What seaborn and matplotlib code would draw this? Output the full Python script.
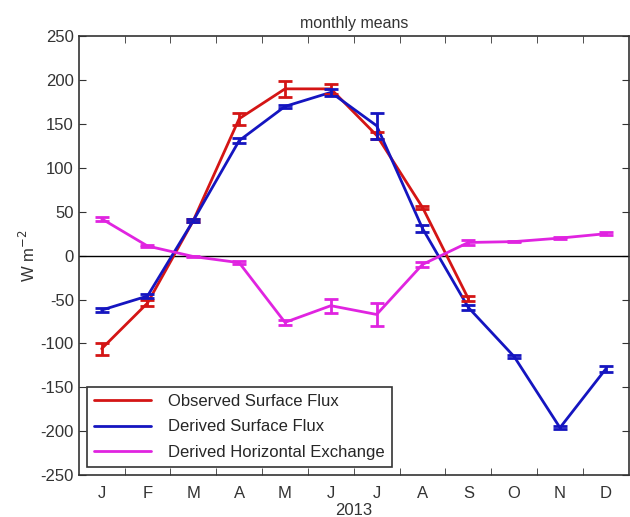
import numpy as np
import pandas as pd
import matplotlib
matplotlib.use("Agg")
import matplotlib.pyplot as plt
import seaborn as sns

months = ["J", "F", "M", "A", "M", "J", "J", "A", "S", "O", "N", "D"]
month_idx = list(range(1, 13))

obs_vals = [-106, -54, 40, 156, 190, 190, 137, 55, -49]
obs_err = [7, 3, 2, 7, 9, 6, 4, 2, 3]

der_vals = [-62, -46, 40, 131, 170, 186, 148, 31, -59, -115, -196, -129]
der_err = [2, 2, 2, 3, 2, 4, 15, 4, 3, 2, 2, 3]

hor_vals = [42, 11, -1, -8, -76, -57, -67, -10, 15, 16, 20, 25]
hor_err = [2, 1, 1, 2, 3, 8, 13, 3, 3, 1, 1, 2]

series = [
    ("Observed Surface Flux", obs_vals, obs_err, "#d41515"),
    ("Derived Surface Flux", der_vals, der_err, "#1515c0"),
    ("Derived Horizontal Exchange", hor_vals, hor_err, "#e024e0"),
]

frames = []
for name, vals, errs, _ in series:
    frames.append(pd.DataFrame({"month": month_idx[:len(vals)], "value": vals,
                                "err": errs, "series": name}))
df = pd.concat(frames, ignore_index=True)

sns.set_style("ticks")
plt.rcParams["font.family"] = ["Liberation Sans", "DejaVu Sans"]
plt.rcParams["axes.unicode_minus"] = False

fig = plt.figure(figsize=(6.3, 5.17), dpi=100)
ax = fig.add_axes([0.125, 0.081, 0.873, 0.849])

palette = {name: c for name, _, _, c in series}
ax.axhline(0, color="black", lw=1.0, zorder=1)
sns.lineplot(data=df, x="month", y="value", hue="series", palette=palette,
             lw=2, ax=ax, zorder=3, legend=True, sort=False)
for name, vals, errs, c in series:
    ax.errorbar(month_idx[:len(vals)], vals, yerr=errs, fmt="none", ecolor=c,
                elinewidth=2, capsize=5, capthick=2, zorder=3)

ax.set_xlim(0.5, 12.5)
ax.set_ylim(-250, 250)
ax.set_yticks(np.arange(-250, 251, 50))
ax.set_xticks(month_idx)
ax.set_xticklabels(months)
ax.set_xticks(np.arange(1.5, 12.5, 1), minor=True)
ax.tick_params(axis="x", which="major", length=0, labelsize=12, pad=8, colors="#333333")
ax.tick_params(axis="x", which="minor", direction="in", length=5, top=True, bottom=True, color="#333333")
ax.tick_params(axis="y", which="major", direction="in", length=5, right=True, labelsize=12, colors="#333333")
for s in ax.spines.values():
    s.set_visible(True)
    s.set_color("#333333")
    s.set_linewidth(1.2)

ax.set_xlabel("2013", fontsize=12, color="#333333", labelpad=1)
ax.set_ylabel("W m$^{-2}$", fontsize=12, color="#333333", labelpad=2)
ax.set_title("monthly means", fontsize=11.5, color="#333333", pad=6)

leg = ax.legend(loc="lower left", fontsize=12, frameon=True, fancybox=False,
                edgecolor="#333333", framealpha=1, borderpad=0.45,
                handlelength=3.4, handletextpad=1.0, labelspacing=0.62,
                borderaxespad=0, bbox_to_anchor=(0.0145, 0.018))
leg.get_frame().set_linewidth(1.2)
for line in leg.get_lines():
    line.set_linewidth(2)

fig.savefig("out.png", dpi=100)
